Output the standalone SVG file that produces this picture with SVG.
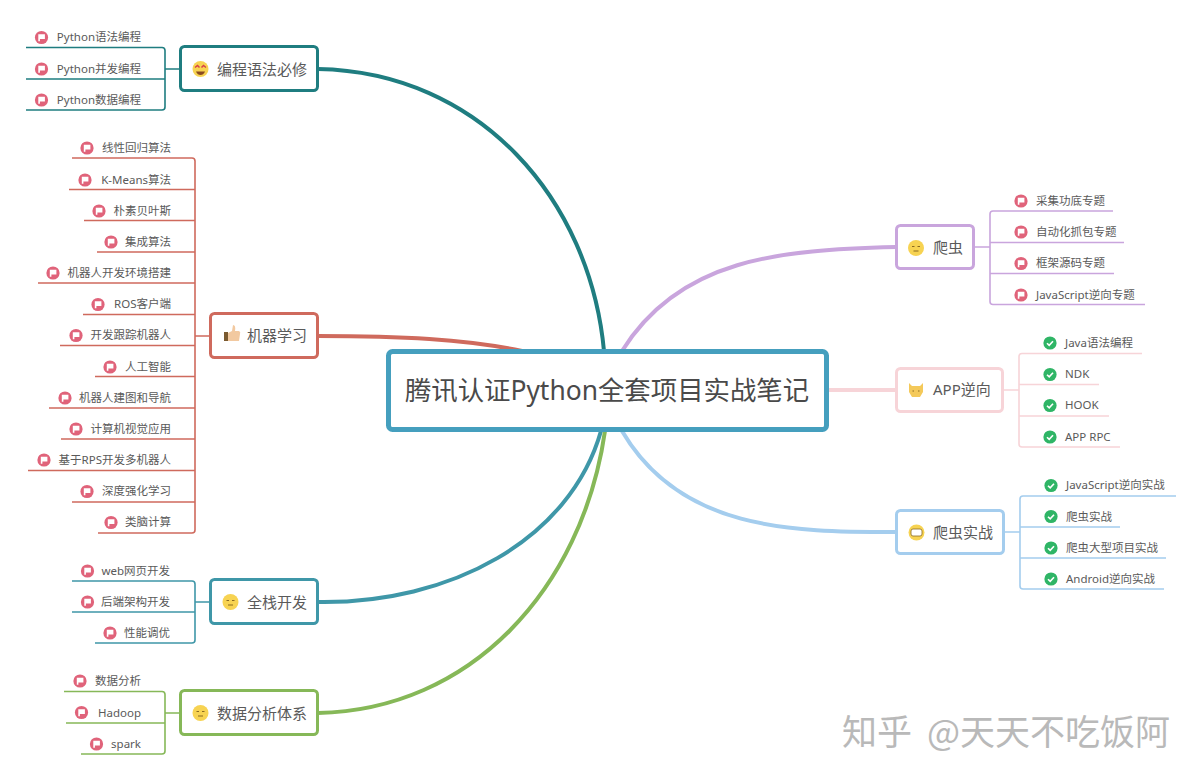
<svg xmlns="http://www.w3.org/2000/svg" xmlns:xlink="http://www.w3.org/1999/xlink" width="1200" height="781" viewBox="0 0 1200 781">
<style>
text{font-family:"Noto Sans","Noto Sans CJK SC",sans-serif;fill:#5a5a5a}
.leaf{font-size:11.5px}
.e{text-anchor:end}
.label{font-size:15px}
.box{fill:#fff;stroke-width:3}
.root{fill:#fff;stroke:#459fbe;stroke-width:5}
.title{font-size:26.4px;fill:#4a4a4a;text-anchor:middle}
.mark{font-size:35px;fill:#b9b9b9;font-family:"Noto Sans CJK SC",sans-serif}
.curve{fill:none;stroke-width:4;stroke-linecap:round}
.tree{fill:none;stroke-width:1.6}
.face{fill:#f7d352}
.eye{fill:none;stroke:#8a6a20;stroke-width:1}
.teal{stroke:#1f7d80}.red{stroke:#cf6a5d}.cyan{stroke:#3f97a8}.green{stroke:#86b858}.purple{stroke:#c9a5dd}.pink{stroke:#f7d4d8}.blue{stroke:#a4cdee}
</style>
<defs>
<g id="flag"><circle r="6.6" fill="#e0637a"/><path d="M-3.200 -3.200H3.400V1.400H-1.600V3.800H-3.200Z" fill="#fff"/></g>
<g id="check"><circle r="6.6" fill="#2fb566"/><path d="M-3 0.2L-0.8 2.4L3 -1.8" fill="none" stroke="#fff" stroke-width="1.6"/></g>
<g id="smile"><circle r="8" class="face"/><path d="M-4 -1.5H-1.500M1.500 -1.500H4M-2.500 3H2.500" class="eye"/></g>
</defs>
<rect width="1200" height="781" fill="#fff"/>
<g id="connectors">
<path class="curve teal" d="M318 69C480 72 590 200 604 351"/>
<path class="curve red" d="M318 336C400 336 465 339 522 351"/>
<path class="curve cyan" d="M318 602C450 604 570 540 601 431"/>
<path class="curve green" d="M318 713C470 710 582 590 605 431"/>
<path class="curve purple" d="M896 247C780 250 680 258 622 351"/>
<path class="curve pink" d="M896 390H826"/>
<path class="curve blue" d="M896 532C790 532 680 530 622 431"/>
<path class="tree teal" d="M26 47.5H162Q165 47.5 165 50.500V107Q165 110 162 110H26M26 79H165M165 69H180"/>
<path class="tree red" d="M72 158H192Q195 158 195 161V530Q195 533 192 533H98M69 189.500H195M84 220.500H195M97 252H195M38 283H195M83 314.500H195M60 345.500H195M95 376.500H195M49 408H195M61 439H195M28 470.500H195M72 502H195M195 336H210"/>
<path class="tree cyan" d="M72 581H192Q195 581 195 584V640Q195 643 192 643H95M72 612H195M195 602H210"/>
<path class="tree green" d="M64 691.500H162Q165 691.500 165 694.500V751Q165 754 162 754H81M66 723H165M165 713H180"/>
<path class="tree purple" d="M1113 211H993Q990 211 990 214V301.500Q990 304.500 993 304.500H1145M1124 242.500H990M1114 273.500H990M974 247H990"/>
<path class="tree pink" d="M1142 353.500H1022Q1019 353.500 1019 356.500V444Q1019 447 1022 447H1120M1099 384.500H1019M1109 416H1019M1003 390H1019"/>
<path class="tree blue" d="M1176 496H1023Q1020 496 1020 499V586Q1020 589 1023 589H1164M1120 527H1020M1166 558H1020M1004 532H1020"/>
</g>
<g id="root"><rect class="root" x="388.500" y="351.500" width="438" height="78" rx="4"/><text class="title" x="607" y="400">腾讯认证Python全套项目实战笔记</text></g>

<g id="n-biancheng"><rect class="box teal" x="180.500" y="46.500" width="137" height="44" rx="4"/>
<circle cx="200.500" cy="69" r="8" class="face"/><path d="M195 67.500l2.500-2 2 2M201.500 67.500l2-2 2.500 2" fill="none" stroke="#d8404a" stroke-width="1.500"/><path d="M196 71.500H205Q203.500 75 200.500 75T196 71.500Z" fill="#8a4a20"/>
<text class="label" x="217" y="74.500">编程语法必修</text></g>
<g id="l1"><use xlink:href="#flag" href="#flag" x="41.500" y="37.500"/><text class="leaf e" x="141" y="41">Python语法编程</text></g>
<g id="l2"><use xlink:href="#flag" href="#flag" x="41.500" y="69"/><text class="leaf e" x="141" y="72.500">Python并发编程</text></g>
<g id="l3"><use xlink:href="#flag" href="#flag" x="41.500" y="100"/><text class="leaf e" x="141" y="103.500">Python数据编程</text></g>

<g id="n-ml"><rect class="box red" x="210.500" y="313.500" width="107" height="44" rx="4"/>
<path d="M224 332h4v9h-4z" fill="#7a5a30"/><path d="M228 333l4-2 1-6q3 0 2 6h4q2 1 1 3l-1 7h-11z" fill="#f2c9a0"/>
<text class="label" x="247" y="341">机器学习</text></g>
<g id="m1"><use xlink:href="#flag" href="#flag" x="87" y="148"/><text class="leaf e" x="171" y="152">线性回归算法</text></g>
<g id="m2"><use xlink:href="#flag" href="#flag" x="85" y="180"/><text class="leaf e" x="171" y="183.500">K-Means算法</text></g>
<g id="m3"><use xlink:href="#flag" href="#flag" x="99" y="211"/><text class="leaf e" x="171" y="214.500">朴素贝叶斯</text></g>
<g id="m4"><use xlink:href="#flag" href="#flag" x="111" y="242"/><text class="leaf e" x="171" y="246">集成算法</text></g>
<g id="m5"><use xlink:href="#flag" href="#flag" x="53" y="273"/><text class="leaf e" x="171" y="277">机器人开发环境搭建</text></g>
<g id="m6"><use xlink:href="#flag" href="#flag" x="98" y="304.500"/><text class="leaf e" x="171" y="308">ROS客户端</text></g>
<g id="m7"><use xlink:href="#flag" href="#flag" x="76" y="335.500"/><text class="leaf e" x="171" y="339">开发跟踪机器人</text></g>
<g id="m8"><use xlink:href="#flag" href="#flag" x="110" y="367"/><text class="leaf e" x="171" y="370.500">人工智能</text></g>
<g id="m9"><use xlink:href="#flag" href="#flag" x="65" y="398"/><text class="leaf e" x="171" y="401.500">机器人建图和导航</text></g>
<g id="m10"><use xlink:href="#flag" href="#flag" x="76" y="429"/><text class="leaf e" x="171" y="432.500">计算机视觉应用</text></g>
<g id="m11"><use xlink:href="#flag" href="#flag" x="44" y="460"/><text class="leaf e" x="171" y="463.500">基于RPS开发多机器人</text></g>
<g id="m12"><use xlink:href="#flag" href="#flag" x="87" y="491.500"/><text class="leaf e" x="171" y="495">深度强化学习</text></g>
<g id="m13"><use xlink:href="#flag" href="#flag" x="111" y="522.500"/><text class="leaf e" x="171" y="526">类脑计算</text></g>

<g id="n-fullstack"><rect class="box cyan" x="210.500" y="579.500" width="107" height="44" rx="4"/><use xlink:href="#smile" href="#smile" x="230.500" y="602"/>
<text class="label" x="247" y="607.500">全栈开发</text></g>
<g id="f1"><use xlink:href="#flag" href="#flag" x="87.500" y="571"/><text class="leaf e" x="170" y="574.500">web网页开发</text></g>
<g id="f2"><use xlink:href="#flag" href="#flag" x="87.500" y="602"/><text class="leaf e" x="170" y="606">后端架构开发</text></g>
<g id="f3"><use xlink:href="#flag" href="#flag" x="110" y="633"/><text class="leaf e" x="170" y="637">性能调优</text></g>

<g id="n-data"><rect class="box green" x="180.500" y="690.500" width="137" height="44" rx="4"/><use xlink:href="#smile" href="#smile" x="200.500" y="713"/>
<text class="label" x="217" y="718.500">数据分析体系</text></g>
<g id="d1"><use xlink:href="#flag" href="#flag" x="80" y="681"/><text class="leaf e" x="141" y="685">数据分析</text></g>
<g id="d2"><use xlink:href="#flag" href="#flag" x="81.500" y="712.500"/><text class="leaf e" x="141" y="716.500">Hadoop</text></g>
<g id="d3"><use xlink:href="#flag" href="#flag" x="96.500" y="744"/><text class="leaf e" x="141" y="748">spark</text></g>

<g id="n-crawler"><rect class="box purple" x="896.500" y="225.500" width="77" height="43" rx="4"/><use xlink:href="#smile" href="#smile" x="916" y="248"/>
<text class="label" x="933" y="253">爬虫</text></g>
<g id="c1"><use xlink:href="#flag" href="#flag" x="1021" y="201"/><text class="leaf" x="1036" y="204.500">采集功底专题</text></g>
<g id="c2"><use xlink:href="#flag" href="#flag" x="1021" y="232"/><text class="leaf" x="1036" y="236">自动化抓包专题</text></g>
<g id="c3"><use xlink:href="#flag" href="#flag" x="1021" y="263.500"/><text class="leaf" x="1036" y="267">框架源码专题</text></g>
<g id="c4"><use xlink:href="#flag" href="#flag" x="1021" y="295"/><text class="leaf" x="1036" y="298.500">JavaScript逆向专题</text></g>

<g id="n-app"><rect class="box pink" x="896.500" y="368.500" width="106" height="43" rx="4"/>
<path d="M909 383l3 3h8l3-3v9l-3 5h-8l-3-5z" fill="#f4c95a"/><path d="M912.500 391h1.500M918 391h1.500" stroke="#8a6a20" fill="none"/>
<text class="label" x="933" y="395">APP逆向</text></g>
<g id="a1"><use xlink:href="#check" href="#check" x="1050" y="343"/><text class="leaf" x="1065" y="346.500">Java语法编程</text></g>
<g id="a2"><use xlink:href="#check" href="#check" x="1050" y="374.500"/><text class="leaf" x="1065" y="378">NDK</text></g>
<g id="a3"><use xlink:href="#check" href="#check" x="1050" y="405.500"/><text class="leaf" x="1065" y="409">HOOK</text></g>
<g id="a4"><use xlink:href="#check" href="#check" x="1050" y="437"/><text class="leaf" x="1065" y="440.500">APP RPC</text></g>

<g id="n-practice"><rect class="box blue" x="896.500" y="510.500" width="107" height="43" rx="4"/>
<circle cx="916.500" cy="532.500" r="8" class="face"/><rect x="911" y="529" width="11" height="7" rx="2" fill="#fff" stroke="#8a6a20" stroke-width=".8"/>
<text class="label" x="933" y="537.500">爬虫实战</text></g>
<g id="p1"><use xlink:href="#check" href="#check" x="1051" y="485.500"/><text class="leaf" x="1066" y="489">JavaScript逆向实战</text></g>
<g id="p2"><use xlink:href="#check" href="#check" x="1051" y="516.500"/><text class="leaf" x="1066" y="520.500">爬虫实战</text></g>
<g id="p3"><use xlink:href="#check" href="#check" x="1051" y="548"/><text class="leaf" x="1066" y="551.500">爬虫大型项目实战</text></g>
<g id="p4"><use xlink:href="#check" href="#check" x="1051" y="579"/><text class="leaf" x="1066" y="582.500">Android逆向实战</text></g>

<text class="mark" x="842" y="745">知乎<tspan x="927">@天天不吃饭阿</tspan></text>
</svg>
